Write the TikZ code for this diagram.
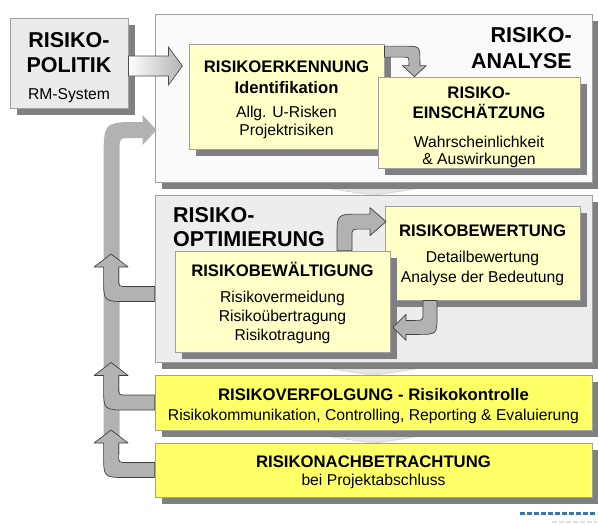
\documentclass[tikz,border=0pt]{standalone}
\usepackage{fontspec}
\setmainfont{Liberation Sans}
\usetikzlibrary{shadows,calc,backgrounds}
\definecolor{shadegray}{HTML}{808080}
\definecolor{framegray}{HTML}{A0A0A0}
\definecolor{paleyel}{HTML}{FFFFC8}
\definecolor{brightyel}{HTML}{FFFF66}
\definecolor{arrowgray}{HTML}{B2B2B2}
\definecolor{logoblue}{HTML}{3F74A6}
\newcommand\titlefnt{\fontsize{21.5}{25}\selectfont\bfseries}
\newcommand\headfnt{\fontsize{16.7}{20}\selectfont\bfseries}
\newcommand\smallfnt{\fontsize{15.7}{18.7}\selectfont}
\newcommand\hl[1]{{\headfnt #1}}
\newcommand\tl[1]{{\titlefnt #1}}
\newcommand\lift[1]{\rule{0pt}{#1}}
\begin{document}
\begin{tikzpicture}[x=1pt,y=-1pt,
    box/.style={draw=framegray,line width=.8pt,inner sep=0pt,align=center,font=\smallfnt,
      general shadow={fill=shadegray,shadow xshift=7pt,shadow yshift=-7pt}},
    panel/.style={box,minimum width=437pt},
    card/.style={box,fill=paleyel},
    bar/.style={box,fill=brightyel,minimum width=437pt},
    title/.style={inner sep=0pt,font=\titlefnt},
    fatarrow/.style={fill=arrowgray,draw=black!75,line width=.7pt,line join=round},
    backarrow/.pic={
      \draw[fatarrow] (0,-7.5) -- (-28,-7.5) .. controls (-36,-7.5) .. (-36,-15.5) -- (-36,-27)
        -- (-26.5,-27) -- (-43.5,-40) -- (-60.5,-27) -- (-51,-27) -- (-51,-15.5)
        .. controls (-51,7.5) .. (-28,7.5) -- (0,7.5) -- cycle;}]
  \useasboundingbox (0,0) rectangle (598,525);
  % phases
  \node[panel,minimum height=168pt,fill=gray!4] (ana) at (373.5,98) {};
  \node[panel,minimum height=167pt,fill=gray!14] (opt) at (373.5,278.5) {};
  \node[bar,minimum height=55pt] (verf) at (373.5,402.5)
    {\lift{18.4pt}\hl{RISIKOVERFOLGUNG - Risikokontrolle}\\[1.3pt]
     Risikokommunikation, Controlling, Reporting \& Evaluierung};
  \node[bar,minimum height=54pt] (nach) at (373.5,470)
    {\lift{15.4pt}\hl{RISIKONACHBETRACHTUNG}\\[-0.7pt] bei Projektabschluss};
  \node[box,fill=gray!16,minimum width=118pt,minimum height=90pt] (pol) at (69,63)
    {\lift{24.8pt}\tl{RISIKO-}\\[6.3pt] \tl{POLITIK}\\[8.3pt] RM-System};
  % steps
  \node[card,minimum width=195pt,minimum height=105pt] (erk) at (286.5,96.5)
    {\lift{18.4pt}\hl{RISIKOERKENNUNG}\\[2.3pt] \hl{Identifikation}\\[5.3pt]
     Allg. U-Risken\\ Projektrisiken};
  \node[card,minimum width=202pt,minimum height=91pt] (ein) at (479,122.5)
    {\lift{21.4pt}\hl{RISIKO-}\\[1.3pt] \hl{EINSCHÄTZUNG}\\[10.3pt]
     Wahrscheinlichkeit\\[-2pt] \& Auswirkungen};
  \node[card,minimum width=195pt,minimum height=94pt] (bwt) at (482.5,253)
    {\lift{17.2pt}\hl{RISIKOBEWERTUNG}\\[7.3pt] Detailbewertung\\[1.3pt] Analyse der Bedeutung};
  \node[card,minimum width=215pt,minimum height=101pt] (bwl) at (282.5,301.5)
    {\lift{16.4pt}\hl{RISIKOBEWÄLTIGUNG}\\[8pt] Risikovermeidung\\ Risikoübertragung\\ Risikotragung};
  \node[title,align=right,anchor=north east] (anatitle) at (572,27) {RISIKO-\\[1pt]ANALYSE};
  \node[title,align=left,anchor=north west] (opttitle) at (173,207) {RISIKO-\\[-1pt]OPTIMIERUNG};
  \begin{scope}[on background layer]
    \foreach \a in {ana,opt,verf}
      \draw[fill=gray!20,draw=gray!45] ($(\a.south)+(-85,0)$) -- ($(\a.south)+(85,0)$)
        -- ($(\a.south)+(0,13)$) -- cycle;
  \end{scope}
  % arrows
  \shadedraw[left color=white,right color=gray!60,draw=black!70,line width=.7pt,shift={(pol.east)}]
    (0,-7) -- (40,-7) -- (40,-16) -- (54,3) -- (40,22) -- (40,13) -- (0,13) -- cycle;
  \draw[fatarrow,shift={(erk.north east)}] (0,2.5) -- (18,2.5) .. controls (35.5,2.5) .. (35.5,16)
    -- (35.5,22) -- (42,22) -- (30,33) -- (18,22) -- (24.5,22) -- (24.5,19)
    .. controls (24.5,13.5) .. (19,13.5) -- (0,13.5) -- cycle;
  \draw[fatarrow,shift={(bwl.north)}] (54.5,0) -- (54.5,-14) .. controls (54.5,-36.5) .. (76.5,-36.5)
    -- (87.5,-36.5) -- (87.5,-43) -- (103.5,-29) -- (87.5,-15) -- (87.5,-21.5) -- (77.5,-21.5)
    .. controls (69.5,-21.5) .. (69.5,-13.5) -- (69.5,0) -- cycle;
  \draw[fatarrow,shift={(bwt.south)}] (-59.5,0) -- (-59.5,12) .. controls (-59.5,20) .. (-67.5,20)
    -- (-76.5,20) -- (-76.5,14) -- (-89.5,27) -- (-76.5,40) -- (-76.5,34) -- (-64.5,34)
    .. controls (-45.5,34) .. (-45.5,15) -- (-45.5,0) -- cycle;
  % feedback loop
  \fill[arrowgray,shift={(ana.west)}] (-51,357) -- (-51,62) .. controls (-51,24) .. (-15,24)
    -- (-12,24) -- (-12,17) -- (2,32) -- (-12,47) -- (-12,40) -- (-22,40)
    .. controls (-35,40) .. (-35,52) -- (-35,357) -- cycle;
  \pic at ($(opt.west)+(0,15.5)$) {backarrow};
  \pic at (verf.west) {backarrow};
  \pic at (nach.west) {backarrow};
  % logo
  \draw[logoblue,line width=3pt,dash pattern=on 5pt off 2pt] (520,513) -- (597,513);
  \draw[gray!25,line width=2.5pt,dash pattern=on 5pt off 2pt] (552,522) -- (597,522);
\end{tikzpicture}
\end{document}
